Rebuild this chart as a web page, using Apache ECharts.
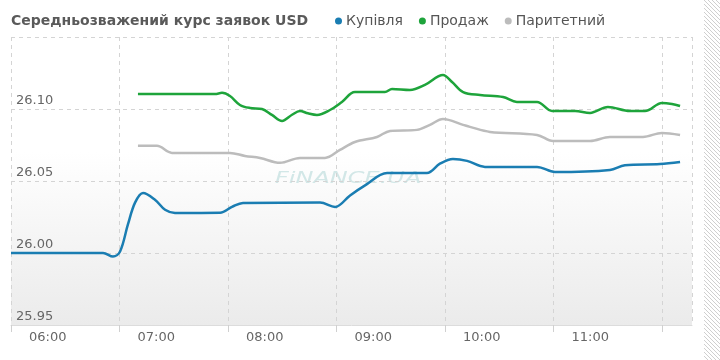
<!DOCTYPE html>
<html>
<head>
<meta charset="utf-8">
<script src="https://cdn.jsdelivr.net/npm/echarts@6/dist/echarts.min.js"></script>
<style>html,body{margin:0;padding:0;background:#fff;}#c{width:720px;height:360px;}</style>
</head>
<body>
<div id="c"></div>
<script>
// minutes after 06:00
const title = 'Середньозважений курс заявок USD';
const seriesNames = ['Купівля', 'Продаж', 'Паритетний'];
const xTickLabels = ['06:00', '07:00', '08:00', '09:00', '10:00', '11:00'];

const buyMin = [0, 50.9, 56.4, 60.3, 64.7, 68.6, 73, 79.6, 85.2, 90.7, 115.6, 122.2, 128.3, 170.9, 179.2, 187.5, 195.8, 208, 230, 237.2, 244.4, 252.2, 262.1, 290.9, 300.8, 331.2, 339.5, 358.9, 370];
const buyVal = [26.000, 26.000, 25.9975, 26.001, 26.020, 26.035, 26.0417, 26.037, 26.030, 26.0278, 26.028, 26.032, 26.0348, 26.035, 26.032, 26.040, 26.047, 26.0556, 26.0556, 26.062, 26.0653, 26.064, 26.0598, 26.0598, 26.0563, 26.0577, 26.061, 26.0618, 26.0632];

const sellMin = [70.2, 112.8, 116.7, 121.1, 126.6, 132.2, 138.8, 144.3, 149.9, 155.4, 159.8, 164.2, 169.2, 176.4, 183, 190.2, 206.8, 210.7, 220.6, 228.9, 238.9, 243.9, 250, 259.4, 272.1, 279.8, 290.9, 299.2, 311.9, 320.2, 330.1, 342.3, 350.6, 360, 365.5, 370];
const sellVal = [26.1104, 26.1104, 26.1112, 26.109, 26.1028, 26.1007, 26.100, 26.0959, 26.0917, 26.096, 26.0986, 26.097, 26.0959, 26.0993, 26.1049, 26.1118, 26.1118, 26.1139, 26.1132, 26.1167, 26.1236, 26.1188, 26.1118, 26.1097, 26.1083, 26.1049, 26.1049, 26.0986, 26.0986, 26.0973, 26.1014, 26.0986, 26.0986, 26.1042, 26.1035, 26.1021];

const parMin = [70.2, 80.7, 89, 121.1, 129.4, 137.7, 148.8, 159.8, 173.6, 181.9, 190.2, 202.4, 209.6, 224.5, 231.7, 238.9, 250, 253.8, 264.9, 290.9, 299.7, 320.2, 331.2, 349.5, 360, 370];
const parVal = [26.0744, 26.0744, 26.0695, 26.0695, 26.0674, 26.066, 26.0626, 26.066, 26.066, 26.0716, 26.0771, 26.0806, 26.0848, 26.0855, 26.089, 26.0931, 26.089, 26.0876, 26.0841, 26.082, 26.0778, 26.0778, 26.0806, 26.0806, 26.0834, 26.082];

const zip = (a, b) => a.map((v, i) => [v, b[i]]);

// hatch pattern for right strip
const pc = document.createElement('canvas');
pc.width = 4; pc.height = 4;
const pctx = pc.getContext('2d');
pctx.strokeStyle = '#cfcfcf';
pctx.lineWidth = 1;
pctx.beginPath();
pctx.moveTo(0, 0); pctx.lineTo(4, 4);
pctx.moveTo(-1, 3); pctx.lineTo(1, 5);
pctx.moveTo(3, -1); pctx.lineTo(5, 1);
pctx.stroke();

const chart = echarts.init(document.getElementById('c'));
const font = 'DejaVu Sans, Verdana, sans-serif';
chart.setOption({
  animation: false,
  title: {
    text: title, left: 11, top: 14, padding: 0,
    textStyle: { fontFamily: font, fontSize: 14, fontWeight: 'bold', color: '#5a5a5a' }
  },
  legend: {
    left: 335, top: 14, padding: 0, icon: 'circle', itemWidth: 7, itemHeight: 7, itemGap: 16,
    textStyle: { fontFamily: font, fontSize: 14, color: '#555', padding: [0, 0, 0, -1] },
    data: seriesNames
  },
  grid: {
    left: 11, right: 28, top: 37, bottom: 35, show: true, borderWidth: 0,
    backgroundColor: new echarts.graphic.LinearGradient(0, 0, 0, 1, [
      { offset: 0, color: '#ffffff' }, { offset: 0.4, color: '#ffffff' }, { offset: 1, color: '#ebebeb' }
    ])
  },
  xAxis: {
    type: 'value', min: 0, max: 376.6, interval: 60,
    axisLine: { show: true, lineStyle: { color: '#dcdcdc', width: 1 } },
    axisTick: { show: true, length: 7, lineStyle: { color: '#d0d0d0' } },
    splitLine: { show: true, lineStyle: { color: '#d4d4d4', type: [4, 4] } },
    axisLabel: {
      fontFamily: font, fontSize: 13, color: '#666', align: 'left', margin: 6,
      padding: [0, 0, 0, 18], showMaxLabel: false,
      formatter: v => xTickLabels[Math.round(v / 60)] || ''
    }
  },
  yAxis: {
    type: 'value', min: 25.95, max: 26.15, interval: 0.05,
    axisLine: { show: false }, axisTick: { show: false },
    splitLine: { show: true, lineStyle: { color: '#d4d4d4', type: [4, 4] } },
    axisLabel: {
      inside: true, margin: 5, verticalAlign: 'bottom', padding: [0, 0, 2, 0],
      fontFamily: font, fontSize: 13, color: '#666', showMaxLabel: false,
      formatter: v => v >= 26.149 ? '' : v.toFixed(2)
    }
  },
  graphic: [
    { type: 'text', x: 275, y: 171, scaleX: 1.5, z: 0, silent: true,
      style: { text: 'FiNANCE.UA', fontFamily: font, fontSize: 16, fontStyle: 'italic', fill: '#d2e7e7' } },
    { type: 'rect', shape: { x: 704, y: 0, width: 16, height: 360 }, silent: true,
      style: { fill: { image: pc, repeat: 'repeat' } } }
  ],
  series: [
    { name: seriesNames[0], type: 'line', data: zip(buyMin, buyVal), smooth: 0.35, showSymbol: false, symbol: 'circle',
      itemStyle: { color: '#1a7db2' }, lineStyle: { width: 2.5, color: '#1a7db2' } },
    { name: seriesNames[1], type: 'line', data: zip(sellMin, sellVal), smooth: 0.35, showSymbol: false, symbol: 'circle',
      itemStyle: { color: '#1ea43b' }, lineStyle: { width: 2.5, color: '#1ea43b' } },
    { name: seriesNames[2], type: 'line', data: zip(parMin, parVal), smooth: 0.35, showSymbol: false, symbol: 'circle',
      itemStyle: { color: '#bcbcbc' }, lineStyle: { width: 2.5, color: '#bcbcbc' } }
  ]
});
</script>
</body>
</html>
